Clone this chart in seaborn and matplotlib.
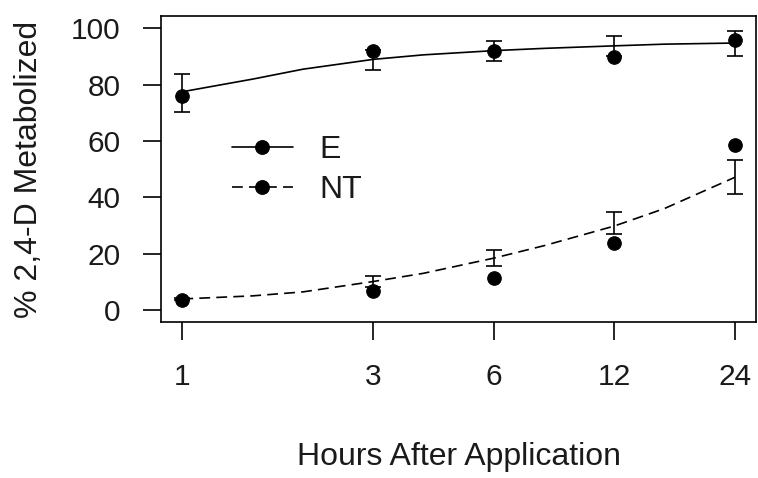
import numpy as np
import pandas as pd
import matplotlib
matplotlib.use('Agg')
import matplotlib.pyplot as plt
import seaborn as sns
from matplotlib.lines import Line2D

# observed means at each sampling time
hours = [1, 3, 6, 12, 24]
e_obs = [76.0, 91.8, 92.0, 90.0, 95.9]
nt_obs = [3.6, 6.9, 11.3, 23.9, 58.6]

# fitted values at sampling times with their error bar half-widths
e_fit = [77.0, 88.8, 91.8, 93.8, 94.6]
e_se = [6.75, 3.5, 3.55, 3.5, 4.4]
nt_fit = [3.9, 10.1, 18.5, 30.8, 47.2]
nt_se = [0.4, 2.0, 2.85, 3.9, 6.05]

# fitted curves
curve_hours = [1, 1.5, 2, 3, 4, 6, 8, 12, 16, 24]
e_curve = [77.5, 82.0, 85.5, 89.0, 90.6, 92.1, 92.9, 93.8, 94.4, 94.8]
nt_curve = [3.9, 5.0, 6.4, 10.1, 13.0, 18.4, 22.8, 29.8, 36.0, 47.1]

sns.set_theme(style='white')
plt.rcParams['font.family'] = ['Liberation Sans', 'DejaVu Sans']
FS = 21.5
FS_LAB = 23
TXT = '#1a1a1a'

fig = plt.figure(figsize=(7.58, 4.78), dpi=100)
ax = fig.add_axes([0.212, 0.3257, 0.7858, 0.6414])

curves = pd.DataFrame({'Hours': curve_hours * 2,
                       'Pct': e_curve + nt_curve,
                       'Group': ['E'] * len(curve_hours) + ['NT'] * len(curve_hours)})
obs = pd.DataFrame({'Hours': hours * 2,
                    'Pct': e_obs + nt_obs,
                    'Group': ['E'] * len(hours) + ['NT'] * len(hours)})

sns.lineplot(data=curves[curves['Group'] == 'E'], x='Hours', y='Pct',
             color='black', lw=1.2, ax=ax)
sns.lineplot(data=curves[curves['Group'] == 'NT'], x='Hours', y='Pct',
             color='black', lw=1.2, linestyle=(0, (6.5, 3.7)), ax=ax)

ax.errorbar(hours, e_fit, yerr=e_se, fmt='none', ecolor='black',
            elinewidth=1.2, capsize=6.1, capthick=1.2)
ax.errorbar(hours, nt_fit, yerr=nt_se, fmt='none', ecolor='black',
            elinewidth=1.2, capsize=6.1, capthick=1.2)

sns.scatterplot(data=obs, x='Hours', y='Pct', color='black', edgecolor='black',
                marker='o', s=95, ax=ax, zorder=5, legend=False)

ax.set_xscale('log')
ax.set_xlim(0.883, 27.16)
ax.set_ylim(-4.4, 104.5)
ax.set_xticks(hours)
ax.set_xticklabels([str(h) for h in hours])
ax.minorticks_off()
ax.set_yticks([0, 20, 40, 60, 80, 100])

for s in ax.spines.values():
    s.set_color('black')
    s.set_linewidth(1.2)
ax.tick_params(axis='both', which='major', direction='out', length=13, width=1.2,
               color='black', labelsize=FS, labelcolor=TXT,
               bottom=True, left=True)
ax.tick_params(axis='x', pad=16)
ax.tick_params(axis='y', pad=16)

ax.set_xlabel('Hours After Application', fontsize=FS_LAB, color=TXT)
ax.set_ylabel('% 2,4-D Metabolized', fontsize=FS_LAB, color=TXT)
ax.xaxis.set_label_coords(0.5, -0.39)
ax.yaxis.set_label_coords(-0.196, 0.5)

handles = [Line2D([], [], color='black', lw=1.2, marker='o', markersize=9.7),
           Line2D([], [], color='black', lw=1.2, linestyle=(0, (6.5, 3.7)),
                  marker='o', markersize=9.7)]
ax.legend(handles, ['E', 'NT'], loc='center left', bbox_to_anchor=(0.1197, 0.4967),
          frameon=False, fontsize=FS_LAB, handlelength=1.9, handletextpad=0.85,
          labelspacing=0.33, borderpad=0, borderaxespad=0, labelcolor=TXT)

fig.savefig('out.png', dpi=100)
